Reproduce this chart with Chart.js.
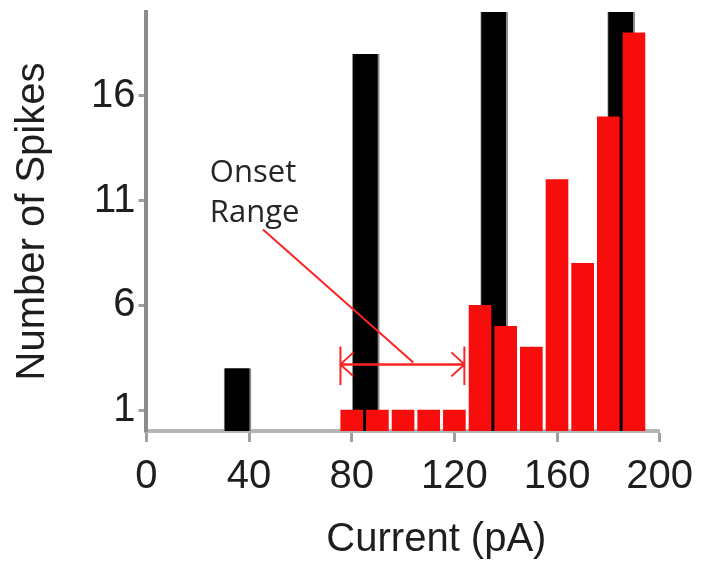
<!DOCTYPE html>
<html>
<head>
<meta charset="utf-8">
<script src="https://cdn.jsdelivr.net/npm/chart.js@4/dist/chart.umd.min.js"></script>
<style>
  html, body { margin: 0; padding: 0; background: #ffffff; }
  #wrap { width: 704px; height: 569px; position: relative; }
</style>
</head>
<body>
<div id="wrap"><canvas id="c" width="704" height="569"></canvas></div>
<script>
// ---- data ----
const redCurrents   = [80, 90, 100, 110, 120, 130, 140, 150, 160, 170, 180, 190];
const redSpikes     = [1, 1, 1, 1, 1, 6, 5, 4, 12, 8, 15, 19];
const blackCurrents = [35.5, 85.5, 135.5, 185];
const blackSpikes   = [3, 18, 22, 22];          // last two run off the top of the axis
const yTickValues   = [1, 6, 11, 16];
const xTickStep     = 40;
const xRange        = [0, 200];
const yRange        = [0, 20];
const xTitle        = '      Current (pA)';
const yTitle        = 'Number of Spikes';
// annotation (in data units)
const onsetLabel    = ['Onset', 'Range'];
const onsetLabelAt  = [[24.7, 11.9], [24.7, 10.0]];
const onsetRange    = [75.6, 123.9];
const onsetLevel    = 3.18;
const onsetBarSpan  = [2.2, 4.03];
const pointerFrom   = [45.4, 9.62];
const pointerTo     = [104, 3.27];

const toPoints = (xs, ys) => xs.map((v, i) => ({ x: v, y: ys[i] }));

const onsetPlugin = {
  id: 'onsetAnnotation',
  afterDatasetsDraw(chart) {
    const { ctx } = chart;
    const xs = chart.scales.x, ys = chart.scales.y;
    const px = v => xs.getPixelForValue(v);
    const py = v => ys.getPixelForValue(v);
    ctx.save();
    ctx.strokeStyle = '#ff2222';
    ctx.lineWidth = 2;
    ctx.lineCap = 'butt';
    ctx.beginPath();
    ctx.moveTo(px(pointerFrom[0]), py(pointerFrom[1]));
    ctx.lineTo(px(pointerTo[0]), py(pointerTo[1]));
    ctx.stroke();
    const xl = px(onsetRange[0]), xr = px(onsetRange[1]), ya = py(onsetLevel);
    ctx.lineWidth = 2.5;
    ctx.beginPath();
    ctx.moveTo(xl, ya); ctx.lineTo(xr, ya);
    ctx.stroke();
    ctx.lineWidth = 2;
    ctx.beginPath();
    ctx.moveTo(xl, py(onsetBarSpan[0])); ctx.lineTo(xl, py(onsetBarSpan[1]));
    ctx.moveTo(xr, py(onsetBarSpan[0])); ctx.lineTo(xr, py(onsetBarSpan[1]));
    const hx = 13, hy = 12;
    ctx.moveTo(xl + hx, ya - hy); ctx.lineTo(xl, ya); ctx.lineTo(xl + hx, ya + hy);
    ctx.moveTo(xr - hx, ya - hy); ctx.lineTo(xr, ya); ctx.lineTo(xr - hx, ya + hy);
    ctx.stroke();
    ctx.fillStyle = '#262626';
    ctx.font = '31px "Open Sans", "Liberation Sans", sans-serif';
    ctx.textAlign = 'left';
    ctx.textBaseline = 'alphabetic';
    onsetLabel.forEach((t, i) => {
      ctx.fillText(t, px(onsetLabelAt[i][0]), py(onsetLabelAt[i][1]));
    });
    ctx.restore();
  }
};

const tickFont = { family: '"Liberation Sans", Arial, sans-serif', size: 40 };

new Chart(document.getElementById('c'), {
  type: 'bar',
  data: {
    datasets: [
      {
        label: 'Series 2',
        data: toPoints(redCurrents, redSpikes),
        backgroundColor: '#f80d0d',
        borderWidth: 0,
        barThickness: 22,
        grouped: false,
        clip: 0,
        order: 1
      },
      {
        label: 'Series 1',
        data: toPoints(blackCurrents, blackSpikes),
        backgroundColor: '#000000',
        borderColor: '#8a8a8a',
        borderWidth: { right: 2, left: 1, top: 0, bottom: 0 },
        barThickness: 27,
        grouped: false,
        clip: 0,
        order: 2
      }
    ]
  },
  options: {
    responsive: false,
    animation: false,
    events: [],
    layout: { padding: { left: 9, right: 42, top: 12, bottom: 5 } },
    plugins: {
      legend: { display: false },
      tooltip: { enabled: false }
    },
    scales: {
      x: {
        type: 'linear',
        min: xRange[0],
        max: xRange[1],
        offset: false,
        grid: { display: true, offset: false, drawOnChartArea: false, drawTicks: true,
                tickLength: 11, tickColor: '#a0a0a0', tickWidth: 3 },
        border: { display: true, color: '#b4b4b4', width: 4 },
        ticks: { stepSize: xTickStep, maxRotation: 0, autoSkip: false, padding: 11,
                 color: '#1e1e1e', font: tickFont },
        title: { display: true, text: xTitle, color: '#1e1e1e',
                 font: tickFont, padding: { top: 4, bottom: 0 } }
      },
      y: {
        type: 'linear',
        min: yRange[0],
        max: yRange[1],
        grid: { display: true, drawOnChartArea: false, drawTicks: true,
                tickLength: 8, tickColor: '#a0a0a0', tickWidth: 3 },
        border: { display: true, color: '#8c8c8c', width: 4 },
        afterBuildTicks: axis => { axis.ticks = yTickValues.map(v => ({ value: v })); },
        afterFit: axis => { axis.paddingTop = 0; axis.paddingBottom = 0; },
        ticks: { padding: 3, color: '#1e1e1e', font: tickFont },
        title: { display: true, text: yTitle, color: '#1e1e1e',
                 font: tickFont, padding: { top: 0, bottom: 31 } }
      }
    }
  },
  plugins: [onsetPlugin]
});
</script>
</body>
</html>
